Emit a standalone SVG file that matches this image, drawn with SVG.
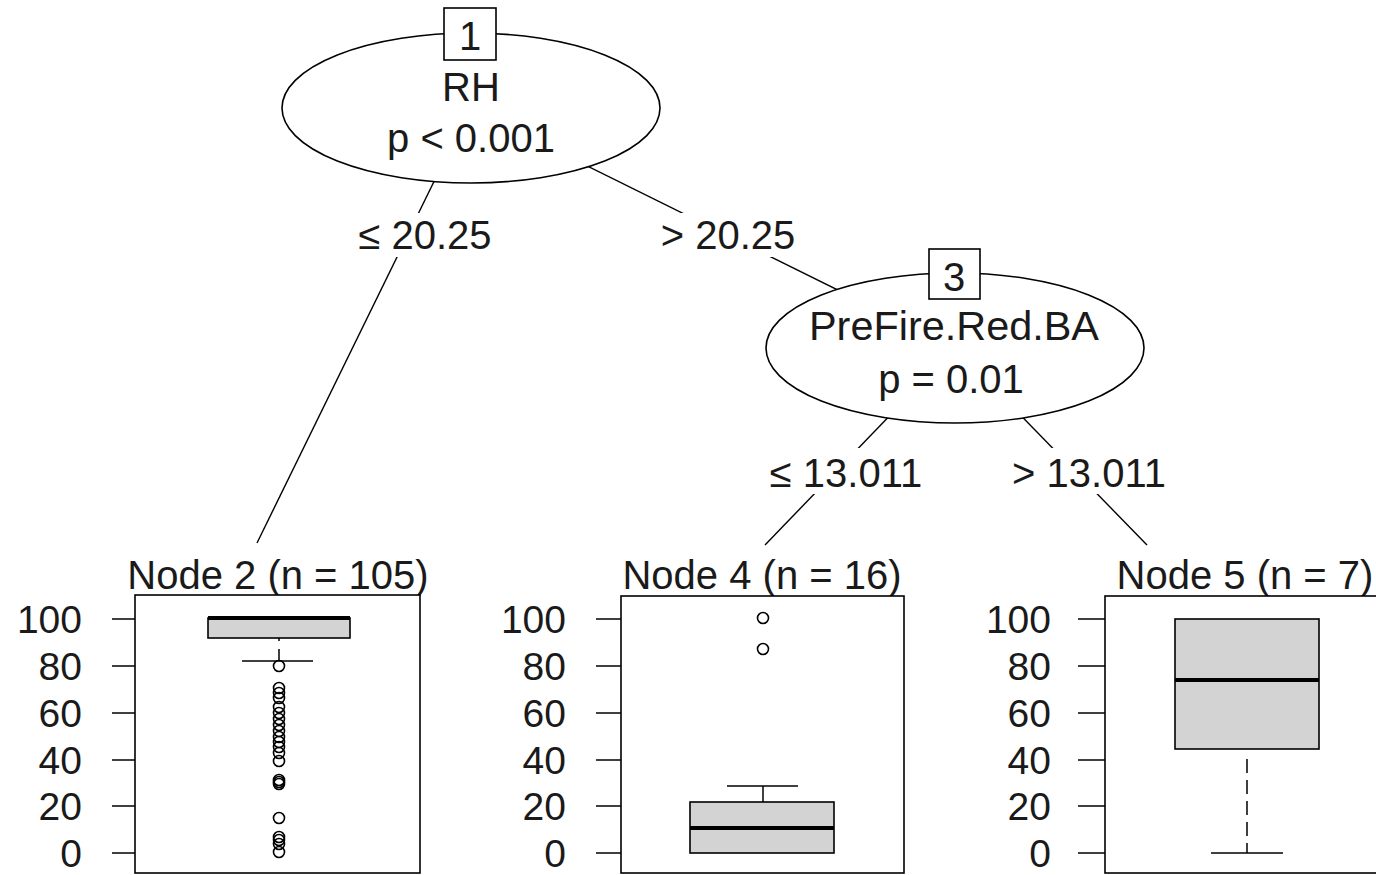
<svg xmlns="http://www.w3.org/2000/svg" width="1376" height="875" viewBox="0 0 1376 875">
<style>
text{font-family:"Liberation Sans",Arial,sans-serif;fill:#1a1a1a;}
.t{font-size:40px;text-anchor:middle;}
.ax{font-size:39px;text-anchor:end;}
.ln{stroke:#000;stroke-width:1.4;fill:none;}
.ell{fill:#fff;stroke:#000;stroke-width:1.6;}
.idbox{fill:#fff;stroke:#000;stroke-width:1.6;}
.lab{fill:#fff;stroke:none;}
.panel{fill:#fff;stroke:#000;stroke-width:1.6;}
.bx{fill:#d3d3d3;stroke:#000;stroke-width:1.6;}
.med{stroke:#000;stroke-width:4;}
.wh{stroke:#000;stroke-width:1.5;fill:none;}
.dash{stroke:#000;stroke-width:1.5;stroke-dasharray:14 7;fill:none;}
.out{fill:none;stroke:#000;stroke-width:1.6;}
</style>
<rect width="1376" height="875" fill="#fff"/>
<g id="edges">
<line class="ln" x1="470" y1="108" x2="257" y2="543"/>
<line class="ln" x1="470" y1="108" x2="955" y2="348"/>
<line class="ln" x1="955" y1="348" x2="765" y2="545"/>
<line class="ln" x1="955" y1="348" x2="1147" y2="545"/>
</g>
<g id="node1">
<ellipse class="ell" cx="471" cy="108" rx="189" ry="75"/>
<rect class="idbox" x="444" y="8" width="52" height="52"/>
<text class="t" x="470" y="50">1</text>
<text class="t" x="471" y="101">RH</text>
<text class="t" x="471" y="152">p &lt; 0.001</text>
</g>
<g id="node3">
<ellipse class="ell" cx="955" cy="348" rx="189" ry="75"/>
<rect class="idbox" x="929" y="249" width="51" height="50"/>
<text class="t" x="954" y="291">3</text>
<text class="t" x="954" y="340" textLength="290" lengthAdjust="spacingAndGlyphs">PreFire.Red.BA</text>
<text class="t" x="951" y="393">p = 0.01</text>
</g>
<g id="edge-labels">
<rect class="lab" x="354" y="213" width="142" height="44"/>
<text class="t" x="425" y="249">≤ 20.25</text>
<rect class="lab" x="657" y="213" width="142" height="44"/>
<text class="t" x="728" y="249">&gt; 20.25</text>
<rect class="lab" x="764" y="448" width="164" height="46"/>
<text class="t" x="846" y="487">≤ 13.011</text>
<rect class="lab" x="1007" y="448" width="164" height="46"/>
<text class="t" x="1089" y="487">&gt; 13.011</text>
</g>
<g id="node2">
<text class="t" x="278" y="589">Node 2 (n = 105)</text>
<rect class="panel" x="135" y="595" width="285" height="278"/>
<g class="wh">
<line x1="112" y1="619" x2="135" y2="619"/><line x1="112" y1="666" x2="135" y2="666"/><line x1="112" y1="713" x2="135" y2="713"/><line x1="112" y1="760" x2="135" y2="760"/><line x1="112" y1="806" x2="135" y2="806"/><line x1="112" y1="853" x2="135" y2="853"/>
</g>
<text class="ax" x="82" y="633">100</text><text class="ax" x="82" y="680">80</text><text class="ax" x="82" y="727">60</text><text class="ax" x="82" y="774">40</text><text class="ax" x="82" y="820">20</text><text class="ax" x="82" y="867">0</text>
<line class="wh" x1="279" y1="661" x2="279" y2="638" style="stroke-dasharray:12 8"/>
<line class="wh" x1="242" y1="661" x2="313" y2="661"/>
<rect class="bx" x="208" y="618" width="142" height="20"/>
<line class="med" x1="208" y1="618" x2="350" y2="618"/>
<g class="out">
<circle cx="279" cy="666" r="5.5"/><circle cx="279" cy="688" r="5.5"/><circle cx="279" cy="693" r="5.5"/><circle cx="279" cy="698" r="5.5"/><circle cx="279" cy="707" r="5.5"/><circle cx="279" cy="713" r="5.5"/><circle cx="279" cy="719" r="5.5"/><circle cx="279" cy="725" r="5.5"/><circle cx="279" cy="731" r="5.5"/><circle cx="279" cy="737" r="5.5"/><circle cx="279" cy="742" r="5.5"/><circle cx="279" cy="747" r="5.5"/><circle cx="279" cy="753" r="5.5"/><circle cx="279" cy="761" r="5.5"/><circle cx="279" cy="780" r="5.5"/><circle cx="279" cy="782" r="5.5"/><circle cx="279" cy="784" r="5.5"/><circle cx="279" cy="818" r="5.5"/><circle cx="279" cy="837" r="5.5"/><circle cx="279" cy="840" r="5.5"/><circle cx="279" cy="844" r="5.5"/><circle cx="279" cy="852" r="5.5"/>
</g>
</g>
<g id="node4">
<text class="t" x="762" y="589">Node 4 (n = 16)</text>
<rect class="panel" x="621" y="596" width="283" height="277"/>
<g class="wh">
<line x1="596" y1="619" x2="621" y2="619"/><line x1="596" y1="666" x2="621" y2="666"/><line x1="596" y1="713" x2="621" y2="713"/><line x1="596" y1="760" x2="621" y2="760"/><line x1="596" y1="806" x2="621" y2="806"/><line x1="596" y1="853" x2="621" y2="853"/>
</g>
<text class="ax" x="566" y="633">100</text><text class="ax" x="566" y="680">80</text><text class="ax" x="566" y="727">60</text><text class="ax" x="566" y="774">40</text><text class="ax" x="566" y="820">20</text><text class="ax" x="566" y="867">0</text>
<line class="wh" x1="763" y1="786" x2="763" y2="802"/>
<line class="wh" x1="727" y1="786" x2="798" y2="786"/>
<rect class="bx" x="690" y="802" width="144" height="51"/>
<line class="med" x1="690" y1="828" x2="834" y2="828"/>
<g class="out"><circle cx="763" cy="618" r="5.5"/><circle cx="763" cy="649" r="5.5"/></g>
</g>
<g id="node5">
<text class="t" x="1245" y="589">Node 5 (n = 7)</text>
<rect class="panel" x="1105" y="596" width="290" height="277"/>
<g class="wh">
<line x1="1078" y1="619" x2="1105" y2="619"/><line x1="1078" y1="666" x2="1105" y2="666"/><line x1="1078" y1="713" x2="1105" y2="713"/><line x1="1078" y1="760" x2="1105" y2="760"/><line x1="1078" y1="806" x2="1105" y2="806"/><line x1="1078" y1="853" x2="1105" y2="853"/>
</g>
<text class="ax" x="1051" y="633">100</text><text class="ax" x="1051" y="680">80</text><text class="ax" x="1051" y="727">60</text><text class="ax" x="1051" y="774">40</text><text class="ax" x="1051" y="820">20</text><text class="ax" x="1051" y="867">0</text>
<line class="dash" x1="1247" y1="853" x2="1247" y2="756" style="stroke-dashoffset:4"/>
<line class="wh" x1="1211" y1="853" x2="1283" y2="853"/>
<rect class="bx" x="1175" y="619" width="144" height="130"/>
<line class="med" x1="1175" y1="680" x2="1319" y2="680"/>
</g>
</svg>
